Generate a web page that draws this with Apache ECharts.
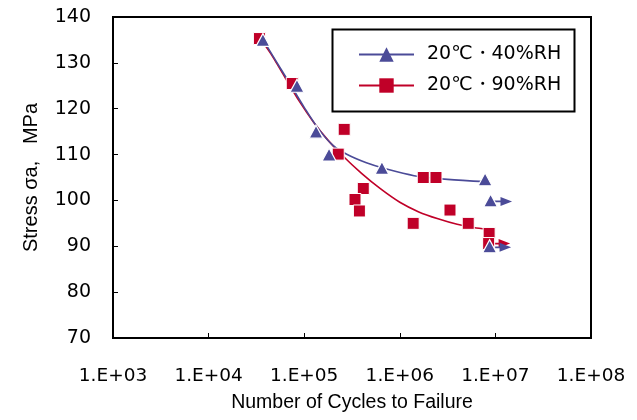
<!DOCTYPE html>
<html><head><meta charset="utf-8">
<script src="https://cdn.jsdelivr.net/npm/echarts@6/dist/echarts.min.js"></script>
<style>html,body{margin:0;padding:0;background:#fff}#c{width:637px;height:420px}</style>
</head><body><div id="c"></div>
<script>
// Series names
const nameLow = '20℃・40%RH';
const nameHigh = '20℃・90%RH';
// 40%RH measured points [cycles, stress]
const lowCycles = [3.7e4, 8.4e4, 1.33e5, 1.82e5, 6.5e5, 7.8e6];
const lowStress = [135, 125, 115, 110, 107.1, 104.6];
// 40%RH run-outs (no failure)
const lowRunCycles = [8.9e6, 8.7e6];
const lowRunStress = [100, 90];
// 90%RH measured points
const highCycles = [3.4e4, 7.5e4, 2.62e5, 2.27e5, 4.15e5, 3.4e5, 3.78e5, 1.76e6, 2.39e6, 1.38e6, 3.35e6, 5.2e6, 8.6e6];
const highStress = [135.3, 125.5, 115.5, 110.1, 102.6, 100.2, 97.7, 105.0, 105.0, 95.0, 97.9, 95.0, 92.8];
// 90%RH run-outs
const highRunCycles = [8.5e6];
const highRunStress = [90.6];
// Fitted trend curves
const lowCurveCycles = [3.72e4, 5.0e4, 7.1e4, 1.0e5, 1.41e5, 2.0e5, 2.82e5, 4.47e5, 7.08e5, 1.41e6, 3.16e6, 7.94e6];
const lowCurveStress = [135.0, 130.6, 125.4, 120.3, 115.6, 112.0, 110.0, 108.2, 106.9, 105.4, 104.6, 104.1];
const highCurveCycles = [3.47e4, 4.47e4, 6.31e4, 8.91e4, 1.26e5, 1.78e5, 2.51e5, 3.98e5, 6.31e5, 1.0e6, 1.58e6, 2.51e6, 3.98e6, 6.31e6, 9.33e6];
const highCurveStress = [135.3, 132.0, 126.8, 121.6, 117.0, 113.1, 109.8, 105.9, 102.5, 99.6, 97.5, 96.0, 94.8, 94.0, 93.7];
// Axis ticks
const xMin = 1e3, xMax = 1e8;
const yMin = 70, yMax = 140, yStep = 10;

const zip = (a, b) => a.map((v, i) => [v, b[i]]);
const BLUE = '#4B4B98', RED = '#C00028';
const tickFont = 'DejaVu Sans';
const nameFont = 'Liberation Sans';
const arrowPath = 'path://M0,3.6 L9,3.6 L9,0 L20,4.5 L9,9 L9,5.4 L0,5.4 Z';

const chart = echarts.init(document.getElementById('c'), null, {renderer: 'canvas'});
chart.setOption({
  animation: false,
  backgroundColor: '#fff',
  grid: {left: 113, right: 46, top: 17, bottom: 82, show: true, borderColor: '#000', borderWidth: 2, backgroundColor: 'transparent'},
  xAxis: {
    type: 'log', logBase: 10, min: xMin, max: xMax, splitNumber: 5,
    name: 'Number of Cycles to Failure', nameLocation: 'middle', nameGap: 55,
    nameTextStyle: {fontFamily: nameFont, fontSize: 19.5, color: '#000'},
    axisLine: {show: true, lineStyle: {color: '#000', width: 2}},
    axisTick: {show: true, inside: true, length: 5, lineStyle: {color: '#000', width: 1}},
    minorTick: {show: false},
    splitLine: {show: false},
    axisLabel: {margin: 29, fontFamily: tickFont, fontSize: 18.5, color: '#000',
      formatter: v => '1.E+' + String(Math.round(Math.log10(v))).padStart(2, '0')}
  },
  yAxis: {
    type: 'value', min: yMin, max: yMax, interval: yStep,
    name: 'Stress σa,   MPa', nameLocation: 'middle', nameGap: 72, nameRotate: 90,
    nameTextStyle: {fontFamily: nameFont, fontSize: 20, color: '#000'},
    axisLine: {show: true, lineStyle: {color: '#000', width: 2}},
    axisTick: {show: true, inside: true, length: 5, lineStyle: {color: '#000', width: 1}},
    splitLine: {show: false},
    axisLabel: {margin: 22, fontFamily: tickFont, fontSize: 19, color: '#000'}
  },
  legend: {
    data: [nameLow, nameHigh], orient: 'vertical', left: 353, top: 40,
    itemWidth: 55, itemHeight: 18, itemGap: 12,
    textStyle: {fontFamily: tickFont, fontSize: 19, color: '#000', lineHeight: 18, padding: [0, 0, 0, 8]},
    selectedMode: false
  },
  graphic: [{type: 'rect', left: 330, top: 27, shape: {width: 242, height: 82}, style: {fill: 'none', stroke: '#000', lineWidth: 2}, z: 10}],
  series: [
    {name: nameHigh, type: 'line', data: zip(highCurveCycles, highCurveStress), smooth: 0.3, showSymbol: false,
     symbol: 'rect', color: RED, lineStyle: {color: RED, width: 1.6}, itemStyle: {color: RED}, z: 2, silent: true},
    {name: nameLow, type: 'line', data: zip(lowCurveCycles, lowCurveStress), smooth: 0.3, showSymbol: false,
     symbol: 'triangle', color: BLUE, lineStyle: {color: BLUE, width: 1.6}, itemStyle: {color: BLUE}, z: 3, silent: true},
    {name: 'runHigh', type: 'scatter', data: zip(highRunCycles, highRunStress), symbol: arrowPath,
     symbolSize: [21, 9], symbolOffset: [11, 0], itemStyle: {color: RED, opacity: 1}, z: 4},
    {name: 'runLow', type: 'scatter', data: zip(lowRunCycles, lowRunStress), symbol: arrowPath,
     symbolSize: [21, 9], symbolOffset: [11, 1], itemStyle: {color: BLUE, opacity: 1}, z: 4},
    {name: 'ptsHigh', type: 'scatter', data: zip(highCycles, highStress), symbol: 'rect', symbolSize: 12,
     itemStyle: {color: RED, borderColor: '#fff', borderWidth: 1, opacity: 1}, z: 5},
    {name: 'runHighPts', type: 'scatter', data: zip(highRunCycles, highRunStress), symbol: 'rect', symbolSize: 12,
     itemStyle: {color: RED, borderColor: '#fff', borderWidth: 1, opacity: 1}, z: 5},
    {name: 'ptsLow', type: 'scatter', data: zip(lowCycles, lowStress), symbol: 'triangle', symbolSize: [14, 13],
     itemStyle: {color: BLUE, borderColor: '#fff', borderWidth: 1.2, opacity: 1}, z: 6},
    {name: 'runLowPts', type: 'scatter', data: zip(lowRunCycles, lowRunStress), symbol: 'triangle', symbolSize: [14, 13],
     itemStyle: {color: BLUE, borderColor: '#fff', borderWidth: 1.2, opacity: 1}, z: 6}
  ]
});
</script></body></html>
